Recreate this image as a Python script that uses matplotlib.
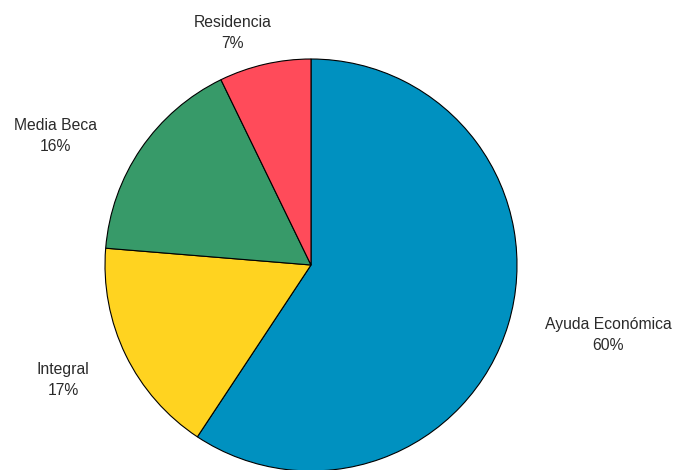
import matplotlib
matplotlib.use("Agg")
import matplotlib.pyplot as plt

# datos (porcentaje de alumnos por tipo de beca)
categorias = ["Ayuda Económica", "Integral", "Media Beca", "Residencia"]
valores = [59.3, 17.0, 16.5, 7.2]
etiquetas_pct = ["60%", "17%", "16%", "7%"]
colores = ["#0091C0", "#FFD320", "#379A69", "#FF4B5A"]

# posiciones de las etiquetas (en píxeles de la figura)
pos_etiquetas = [(608, 335), (63, 380), (55, 136), (233, 33)]

W, H = 677, 470
fig = plt.figure(figsize=(W / 100, H / 100), dpi=100)
ax = fig.add_axes([0, 0, 1, 1])

# el eje y va invertido (coordenadas de píxel), así que el sentido
# horario visual es antihorario en datos y el inicio está en -90
ax.pie(valores, colors=colores, startangle=-90, counterclock=True,
       center=(311, 265), radius=206, frame=True,
       wedgeprops=dict(edgecolor="black", linewidth=0.8))
ax.set_xlim(0, W)
ax.set_ylim(H, 0)
ax.axis("off")

for cat, pct, (x, y) in zip(categorias, etiquetas_pct, pos_etiquetas):
    ax.text(x, y, f"{cat}\n{pct}", ha="center", va="center",
            fontsize=11.3, family="Liberation Sans", color="#2a2a2a",
            linespacing=1.5)

fig.savefig("out.png", dpi=100)
